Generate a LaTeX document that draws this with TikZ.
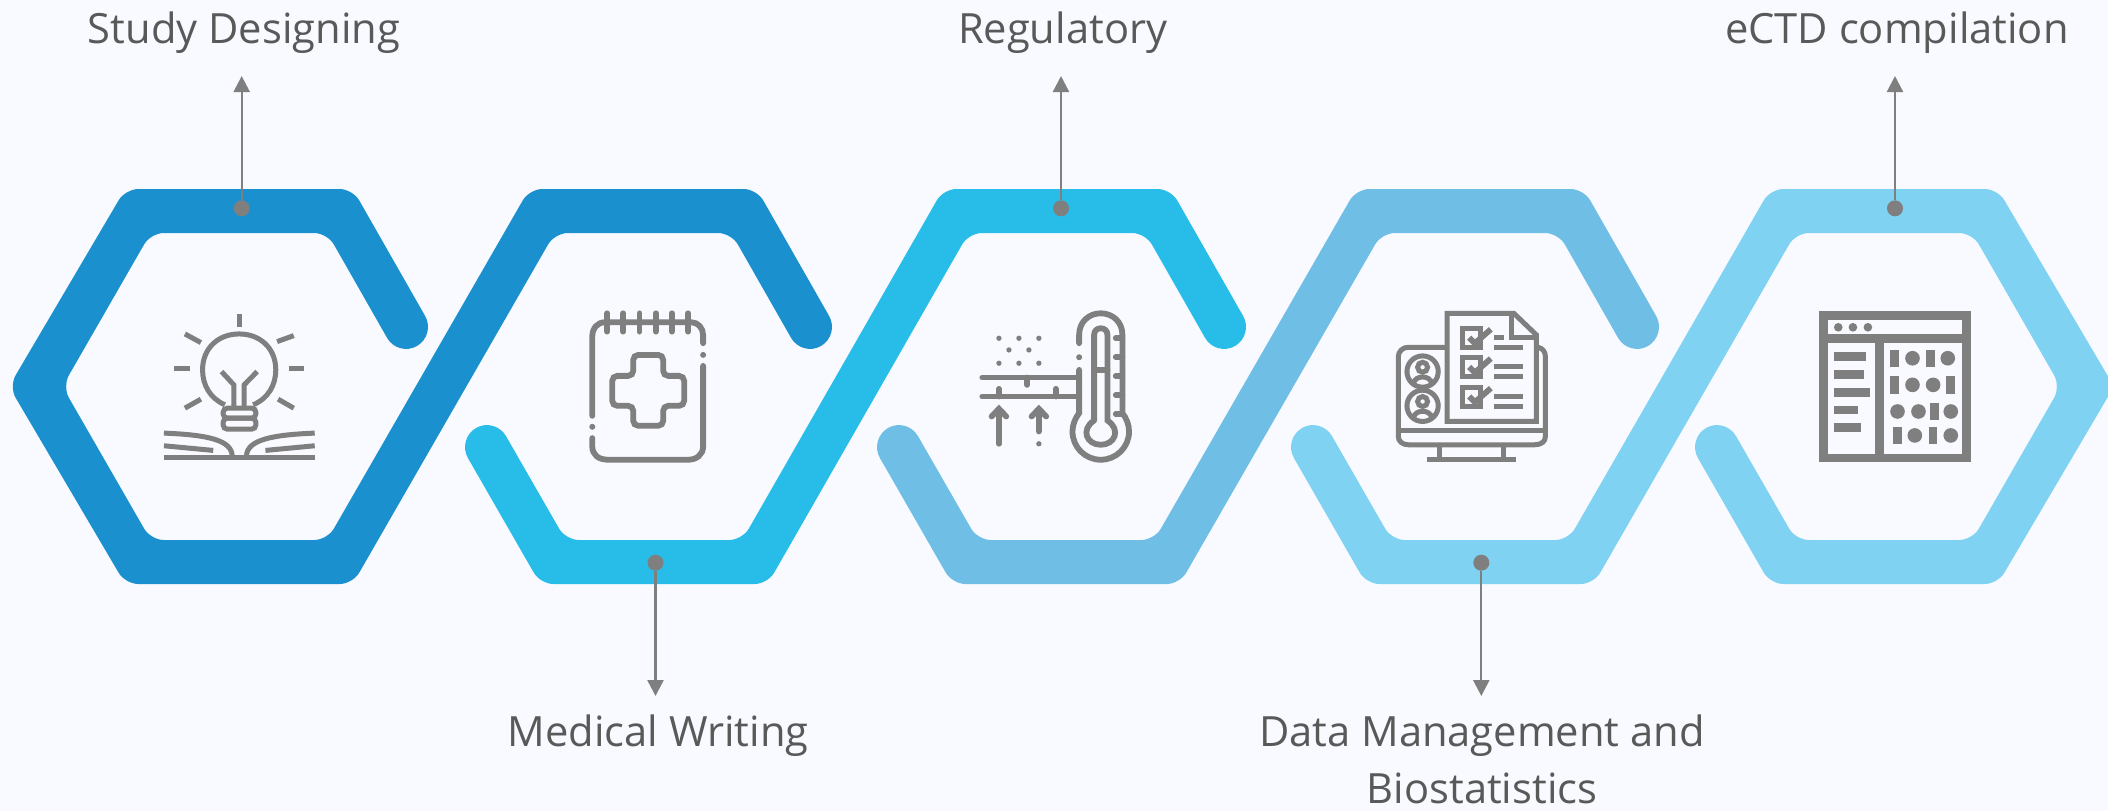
\documentclass[tikz,border=0pt]{standalone}
\usepackage{fontspec}
\setmainfont{Open Sans}
\usetikzlibrary{arrows.meta}
\definecolor{back-blue}{HTML}{F8FAFF}
\definecolor{band-one}{HTML}{1B90CF}
\definecolor{band-two}{HTML}{28BDE9}
\definecolor{band-three}{HTML}{6FBEE6}
\definecolor{band-four}{HTML}{7FD2F2}
\definecolor{icon-gray}{HTML}{7F7F7F}
\definecolor{title-gray}{HTML}{595959}
\tikzset{
    hexcorner/.style={rounded corners=0.13cm},
    capcorner/.style={rounded corners=0.22cm},
    pindot/.style={circle, fill=icon-gray, minimum size=0.16cm, inner sep=0pt},
    pinarrow/.style={icon-gray, line width=0.023cm, -{Triangle[length=0.16cm, width=0.16cm]}},
    titletop/.style={anchor=south, text=title-gray, font=\fontsize{11.85}{16.2}\selectfont, inner xsep=0pt, inner ysep=0.22cm},
    titlebottom/.style={anchor=north, align=center, text=title-gray, font=\fontsize{11.85}{16.2}\selectfont, inner xsep=0pt, inner ysep=0.18cm},
    iconunits/.style={x=0.003333cm, y=-0.003333cm, icon-gray, line width=0.05cm},
    iconheavy/.style={line width=0.058cm},
}
% Band from the bottom of one ring to the top of the next: colour, bottom x, top x
\newcommand{\hexband}[3]{
    \fill [#1, hexcorner] (#2, 584) -- (#2+113.7, 584) -- (#3-88.3, 233) -- (#3+88.3, 233)
        [capcorner] -- (#3+159, 357) -- (#3+197, 335) [hexcorner] -- (#3+113.7, 189) -- (#3-113.7, 189)
        -- (#2+88.3, 540) -- (#2-88.3, 540) [capcorner] -- (#2-159, 417) -- (#2-197, 439)
        [hexcorner] -- (#2-113.7, 584) -- cycle;
}

\begin{document}
\begin{tikzpicture}[x=0.01cm, y=-0.01cm]
        % Background
        \fill [back-blue] (0, 0) rectangle (2108, 811);
        \useasboundingbox (0, 0) rectangle (2108, 811);
        % First band, closed round the left of ring 1
        \fill [band-one, hexcorner] (239, 189) -- (125.3, 189) -- (9, 386.5) -- (125.3, 584) -- (352.7, 584)
            -- (554.7, 233) -- (731.3, 233) [capcorner] -- (802, 357) -- (840, 335) [hexcorner] -- (756.7, 189)
            -- (529.3, 189) -- (327.3, 540) -- (150.7, 540) -- (62.4, 386.5) -- (150.7, 233) -- (327.3, 233)
            [capcorner] -- (398, 357) -- (436, 335) [hexcorner] -- (352.7, 189) -- cycle;
        % Second and third band
        \hexband{band-two}{654}{1057}
        \hexband{band-three}{1066}{1470}
        % Last band, closed round the right of ring 5
        \fill [band-four, hexcorner] (1480, 584) -- (1593.7, 584) -- (1795.7, 233) -- (1972.3, 233) -- (2060.6, 386.5)
            -- (1972.3, 540) -- (1795.7, 540) [capcorner] -- (1725, 417) -- (1687, 439) [hexcorner] -- (1770.3, 584)
            -- (1997.7, 584) -- (2114, 386.5) -- (1997.7, 189) -- (1770.3, 189) -- (1568.3, 540) -- (1391.7, 540)
            [capcorner] -- (1321, 417) -- (1283, 439) [hexcorner] -- (1366.3, 584) -- cycle;
        % Titles
        \node [titletop] (study) at (244, 76) {Study Designing};
        \node [titlebottom] (writing) at (658, 696) {Medical Writing};
        \node [titletop] (regulatory) at (1062.6, 76) {Regulatory};
        \node [titlebottom] (data) at (1482, 696) {Data Management and\\Biostatistics};
        \node [titletop] (ectd) at (1897, 76) {eCTD compilation};
        % Pins
        \node [pindot] (pinstudy) at (241.7, 208.3) {};
        \node [pindot] (pinwriting) at (655.5, 562.7) {};
        \node [pindot] (pinregulatory) at (1061, 208.3) {};
        \node [pindot] (pindata) at (1481.3, 562.7) {};
        \node [pindot] (pinectd) at (1895, 208.3) {};
        % Pin to title arrows
        \draw [pinarrow] (pinstudy) -- (pinstudy |- study.south);
        \draw [pinarrow] (pinwriting) -- (pinwriting |- writing.north);
        \draw [pinarrow] (pinregulatory) -- (pinregulatory |- regulatory.south);
        \draw [pinarrow] (pindata) -- (pindata |- data.north);
        \draw [pinarrow] (pinectd) -- (pinectd |- ectd.south);
        % Bulb and book icon
        \begin{scope}[shift={(140, 290)}, iconunits]
            \draw (298, 72) -- (298, 110);
            \draw (135, 132) -- (183, 158);
            \draw (462, 137) -- (412, 155);
            \draw (103, 236) -- (150, 236);
            \draw (447, 236) -- (493, 236);
            \draw (135, 355) -- (183, 328);
            \draw (415, 328) -- (462, 355);
            \draw (255, 345) .. controls (210, 325) and (188, 285) .. (188, 240) .. controls (188, 175) and (235, 132) .. (298, 132)
                .. controls (361, 132) and (408, 175) .. (408, 240) .. controls (408, 285) and (386, 325) .. (340, 345);
            \draw [rounded corners=0.04cm] (250, 355) rectangle (348, 385);
            \draw [rounded corners=0.04cm] (250, 385) rectangle (348, 418);
            \draw (245, 245) -- (282, 285) -- (282, 350);
            \draw (352, 245) -- (313, 285) -- (313, 350);
            \draw (72, 430) .. controls (200, 435) and (275, 450) .. (277, 498);
            \draw (525, 430) .. controls (398, 435) and (322, 450) .. (320, 498);
            \draw (72, 468) -- (220, 482);
            \draw (525, 468) -- (377, 482);
            \draw [iconheavy] (72, 503) -- (525, 503);
        \end{scope}
        % Notepad icon
        \begin{scope}[shift={(570, 290)}, iconunits, line cap=round, iconheavy]
            \foreach \tickx in {112, 160, 209, 258, 306, 355}
                \draw (\tickx, 70) -- (\tickx, 125);
            \draw (67, 378) -- (67, 140) .. controls (67, 115) and (82, 97) .. (105, 97) -- (365, 97)
                .. controls (385, 97) and (400, 115) .. (400, 135) -- (400, 160);
            \draw (400, 228) -- (400, 470) .. controls (400, 495) and (380, 510) .. (355, 510) -- (115, 510)
                .. controls (85, 510) and (67, 495) .. (67, 470) -- (67, 445);
            \fill (400, 195) circle [radius=9];
            \fill (67, 411) circle [radius=9];
            \draw [rounded corners=0.05cm] (190, 258) -- (190, 195) -- (280, 195) -- (280, 258) -- (343, 258)
                -- (343, 348) -- (280, 348) -- (280, 408) -- (190, 408) -- (190, 348) -- (127, 348) -- (127, 258) -- cycle;
        \end{scope}
        % Thermometer icon
        \begin{scope}[shift={(960, 290)}, iconunits, line cap=round, iconheavy]
            \draw (358, 160) -- (358, 135) .. controls (358, 95) and (388, 70) .. (423, 70)
                .. controls (458, 70) and (488, 95) .. (488, 135) -- (488, 370) .. controls (500, 385) and (508, 405) .. (508, 425)
                .. controls (508, 472) and (470, 510) .. (423, 510) .. controls (376, 510) and (338, 472) .. (338, 425)
                .. controls (338, 405) and (346, 385) .. (358, 370) -- (358, 240);
            \draw (403, 392) -- (403, 135) .. controls (403, 122) and (412, 115) .. (423, 115)
                .. controls (434, 115) and (443, 122) .. (443, 135) -- (443, 392) .. controls (485, 420) and (465, 465) .. (423, 465)
                .. controls (381, 465) and (361, 420) .. (403, 392);
            \draw (403, 240) -- (443, 240);
            \foreach \ticky in {145, 202, 259, 316, 373}
                \draw (468, \ticky) -- (488, \ticky);
            \fill (358, 202) circle [radius=9];
            \foreach \dotx/\doty in {117/145, 177/145, 237/145, 147/180, 207/180, 117/220, 177/220, 237/220}
                \fill (\dotx, \doty) circle [radius=8];
            \draw (67, 263) -- (358, 263);
            \draw (67, 320) -- (358, 320);
            \draw (202, 263) -- (202, 285);
            \draw (117, 297) -- (117, 320);
            \draw (288, 297) -- (288, 320);
            \draw (117, 462) -- (117, 360);
            \draw (95, 380) -- (117, 357) -- (139, 380);
            \draw (237, 425) -- (237, 360);
            \draw (215, 380) -- (237, 357) -- (259, 380);
            \fill (237, 462) circle [radius=8];
        \end{scope}
        % Checklist and monitor icon
        \begin{scope}[shift={(1380, 290)}, iconunits]
            \draw (202, 395) -- (202, 70) -- (402, 70) -- (470, 135) -- (470, 395) -- cycle;
            \draw (395, 75) -- (395, 143) -- (470, 143);
            \draw (202, 172) -- (85, 172) .. controls (68, 172) and (55, 185) .. (55, 200) -- (55, 440)
                .. controls (55, 455) and (68, 465) .. (85, 465) -- (465, 465) .. controls (485, 465) and (497, 455) .. (497, 440)
                -- (497, 200) .. controls (497, 185) and (488, 175) .. (475, 172);
            \draw (55, 423) -- (497, 423);
            \draw (180, 470) -- (180, 510);
            \draw (372, 470) -- (372, 510);
            \draw (142, 510) -- (408, 510);
            \foreach \boxy in {115, 203, 292} {
                \draw (247, \boxy) rectangle (303, \boxy+58);
                \draw [iconheavy] (268, \boxy+28) -- (285, \boxy+45) -- (333, \boxy+3);
            }
            \draw (343, 143) -- (372, 143);
            \foreach \liney in {172, 231, 261, 320, 350}
                \draw (343, \liney) -- (430, \liney);
            \foreach \facey in {245, 348} {
                \draw (128, \facey) circle [radius=47];
                \draw (128, \facey-13) circle [radius=15];
                \draw (100, \facey+35) .. controls (108, \facey+10) and (148, \facey+10) .. (156, \facey+35);
            }
        \end{scope}
        % Window icon
        \begin{scope}[shift={(1800, 290)}, iconunits]
            \fill (57, 63) rectangle (513, 518);
            \fill [back-blue] (83, 90) rectangle (487, 133);
            \fill [back-blue] (83, 160) rectangle (226, 492);
            \fill [back-blue] (252, 160) rectangle (487, 492);
            \foreach \dotx in {115, 159, 204}
                \fill (\dotx, 112) circle [radius=13];
            \fill (102, 187) rectangle (199, 213);
            \fill (102, 241) rectangle (191, 268);
            \fill (102, 295) rectangle (210, 321);
            \fill (102, 348) rectangle (173, 374);
            \fill (102, 401) rectangle (183, 428);
            \foreach \barx/\bary in {271/179, 379/179, 271/258, 439/258, 392/339, 279/411, 387/411}
                \fill (\barx, \bary) rectangle (\barx+26, \bary+53);
            \foreach \roundx/\roundy in {338/205, 444/205, 338/285, 400/285, 293/365, 356/365, 453/365, 345/437, 453/437}
                \fill (\roundx, \roundy) circle [radius=22];
        \end{scope}
\end{tikzpicture}
\end{document}
